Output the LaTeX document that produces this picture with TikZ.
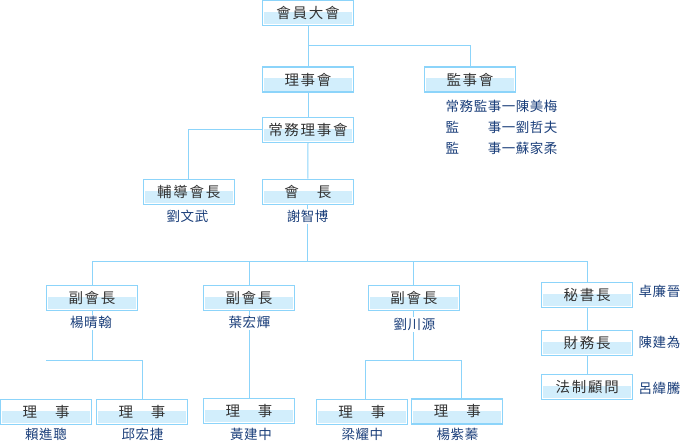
\documentclass[tikz,border=0pt]{standalone}
\usepackage{fontspec}
\newfontfamily\boxfont[LetterSpace=12]{Noto Sans CJK TC}
\newfontfamily\namefont[LetterSpace=4]{Noto Sans CJK TC}
\definecolor{lnblue}{RGB}{140,212,250}
\definecolor{bandblue}{RGB}{210,238,252}
\definecolor{boxtext}{RGB}{51,51,51}
\definecolor{nameblue}{RGB}{26,62,122}
\tikzset{
  orgbox/.style={draw=lnblue, line width=1.2pt, fill=white, minimum width=91pt,
    minimum height=25pt, inner sep=0pt, text=boxtext,
    font=\boxfont\fontsize{14.5}{16}\selectfont,
    path picture={\fill[bandblue] ([shift={(1.6pt,1.2pt)}]path picture bounding box.south west)
      rectangle ([shift={(-1.6pt,1pt)}]path picture bounding box.east);}},
  person/.style={font=\namefont\fontsize{13.5}{15}\selectfont, text=nameblue,
    inner sep=1pt, fill=white},
  link/.style={draw=lnblue, line width=1pt}
}
\begin{document}
\begin{tikzpicture}[x=1pt,y=-1pt]
\useasboundingbox (0,0) rectangle (683,444);
% boxes
\node[orgbox] (mem) at (308,12.9) {會員大會};
\node[orgbox] (li) at (308,79.5) {理事會};
\node[orgbox] (jian) at (470,79.5) {監事會};
\node[orgbox] (chang) at (308,129.7) {常務理事會};
\node[orgbox] (fu) at (188.8,191.8) {輔導會長};
\node[orgbox] (hui) at (307.8,191.8) {會　長};
\node[orgbox] (v1) at (92,297.8) {副會長};
\node[orgbox] (v2) at (249,297.8) {副會長};
\node[orgbox] (v3) at (413.8,297.8) {副會長};
\node[orgbox] (sec) at (587.2,294.8) {秘書長};
\node[orgbox] (fin) at (587.2,342.7) {財務長};
\node[orgbox] (law) at (587.2,386.7) {法制顧問};
\node[orgbox] (d1) at (46.2,411.8) {理　事};
\node[orgbox] (d2) at (142,411.8) {理　事};
\node[orgbox] (d3) at (249,410.8) {理　事};
\node[orgbox] (d4) at (361.8,411.8) {理　事};
\node[orgbox] (d5) at (457.3,411.5) {理　事};
% connectors
\coordinate (j1) at (308,46);
\draw[link] (mem.south) -- (li.north);
\draw[link] (j1) -| (jian.north);
\draw[link] (li.south) -- (chang.north);
\draw[link] (chang.west) -| (fu.north);
\draw[link] (chang.south) -- (hui.north);
\coordinate (bus) at (307.8,261.3);
\draw[link] (hui.south) -- (bus);
\draw[link] (v1.north) |- (bus) -| (sec.north);
\draw[link] (v2.north) -- (v2.north |- bus);
\draw[link] (v3.north) -- (v3.north |- bus);
\draw[link] (sec.south) -- (fin.north);
\draw[link] (fin.south) -- (law.north);
\coordinate (c1) at (46,360.3);
\draw[link] (v1.south) -- (v1.south |- c1);
\draw[link] (c1) -| (d2.north);
\draw[link] (v2.south) -- (d3.north);
\coordinate (c3) at (365.3,360.3);
\draw[link] (v3.south) -- (v3.south |- c3);
\draw[link] ([xshift=3.5pt]d4.north) -- (c3) -| ([xshift=4.4pt]d5.north);
% names
\node[person,anchor=west] (s1) at (444.5,106.7) {常務監事一陳美梅};
\node[person,anchor=west] (s2) at (444.5,127.7) {監　　事一劉哲夫};
\node[person,anchor=west] (s3) at (444.5,148.3) {監　　事一蘇家柔};
\node[person] (nfu) at (187.5,216.7) {劉文武};
\node[person] (nhui) at (307.7,216.7) {謝智博};
\node[person] (nv1) at (91,322.7) {楊晴翰};
\node[person] (nv2) at (249.5,322.7) {葉宏輝};
\node[person] (nv3) at (414.5,324.5) {劉川源};
\node[person,anchor=west] (nsec) at (637.5,291.7) {卓廉晉};
\node[person,anchor=west] (nfin) at (637.5,342.7) {陳建為};
\node[person,anchor=west] (nlaw) at (637.5,388) {呂緯騰};
\node[person] (nd1) at (46,434.8) {賴進聰};
\node[person] (nd2) at (142.5,434.8) {邱宏捷};
\node[person] (nd3) at (251,434.8) {黃建中};
\node[person] (nd4) at (362.3,434.8) {梁耀中};
\node[person] (nd5) at (457.5,434.8) {楊紫蓁};
\end{tikzpicture}
\end{document}
